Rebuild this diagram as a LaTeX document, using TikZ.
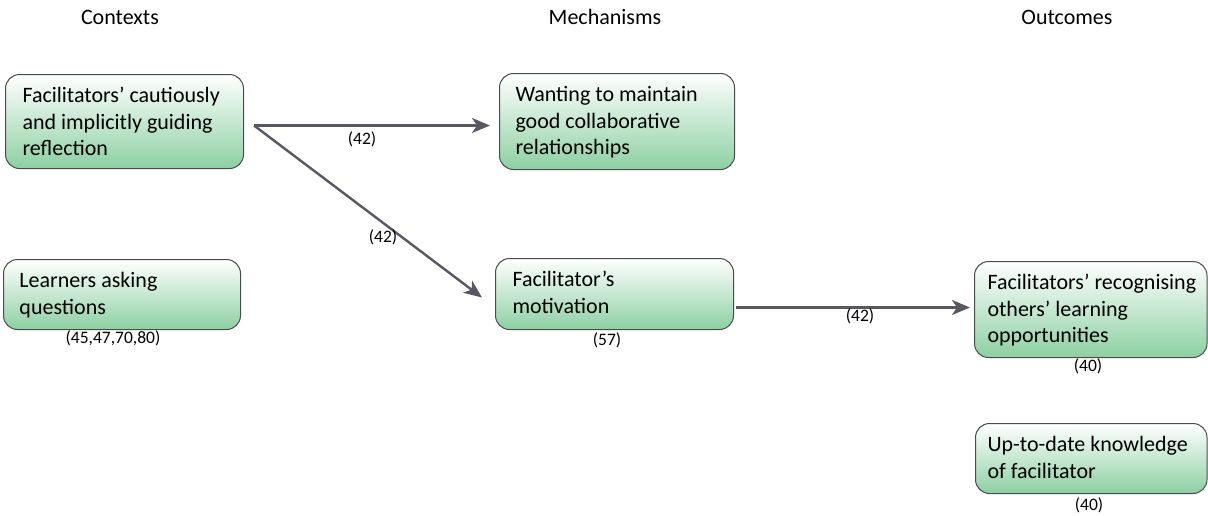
\documentclass[tikz,border=0pt]{standalone}
\usepackage{fontspec}
\setmainfont{Carlito}
\usetikzlibrary{arrows.meta}
\definecolor{grn}{RGB}{140,208,162}
\definecolor{bordergray}{RGB}{75,75,75}
\definecolor{arrowgray}{RGB}{88,88,98}
\newcommand\cbtext[4]{\parbox[b][#2][t]{#1}{\raggedright\setlength\leftskip{#3}\rule{0pt}{28pt}#4}}
\tikzset{
  cbox/.style={draw=bordergray, line width=1pt, rounded corners=14pt,
    top color=white, middle color=grn!12!white, bottom color=grn,
    inner sep=0pt, anchor=north west, font=\fontsize{22}{26.5}\selectfont},
  header/.style={font=\fontsize{22}{27}\selectfont, inner sep=0pt},
  small/.style={font=\fontsize{17.5}{20}\selectfont, inner sep=0pt},
  arr/.style={draw=arrowgray, line width=2.4pt,
    -{Stealth[length=18pt,width=15pt,inset=5pt]}}
}
\begin{document}
\begin{tikzpicture}[x=1pt,y=-1pt]
\useasboundingbox (0,0) rectangle (1208,515);
% headers
\node[header] (h1) at (120,17) {Contexts};
\node[header] (h2) at (605,17) {Mechanisms};
\node[header] (h3) at (1067,17) {Outcomes};
% boxes
\node[cbox] (b1) at (5,74) {\cbtext{238pt}{94pt}{17pt}{Facilitators’ cautiously\\and implicitly guiding\\reflection}};
\node[cbox] (b2) at (499,73) {\cbtext{235pt}{96pt}{16pt}{Wanting to maintain\\good collaborative\\relationships}};
\node[cbox] (b3) at (3,259) {\cbtext{237pt}{70pt}{16pt}{Learners asking\\questions}};
\node[cbox] (b4) at (495,258) {\cbtext{238pt}{71pt}{17pt}{Facilitator’s\\motivation}};
\node[cbox] (b5) at (974,261) {\cbtext{232.5pt}{96pt}{13pt}{Facilitators’ recognising\\others’ learning\\opportunities}};
\node[cbox] (b6) at (975,423) {\cbtext{231.5pt}{70pt}{12pt}{Up-to-date knowledge\\of facilitator}};
% labels under boxes
\node[small] (l3) at (113,338) {(45,47,70,80)};
\node[small] (l4) at (607,340) {(57)};
\node[small] (l5) at (1088,366) {(40)};
\node[small] (l6) at (1089,505) {(40)};
% connectors
\coordinate (s) at ([xshift=10pt,yshift=-4pt]b1.east);
\draw[arr] (s) -- ([xshift=-9pt]b2.west |- s);
\draw[arr] (s) -- ([xshift=-13pt,yshift=-3.5pt]b4.west);
\coordinate (m) at ([xshift=2pt,yshift=-13.5pt]b4.east);
\draw[arr] (m) -- ([xshift=-4pt]b5.west |- m);
% connector labels
\node[small] (a1) at (362,139) {(42)};
\node[small] (a2) at (383,237) {(42)};
\node[small] (a3) at (860,316) {(42)};
\end{tikzpicture}
\end{document}
